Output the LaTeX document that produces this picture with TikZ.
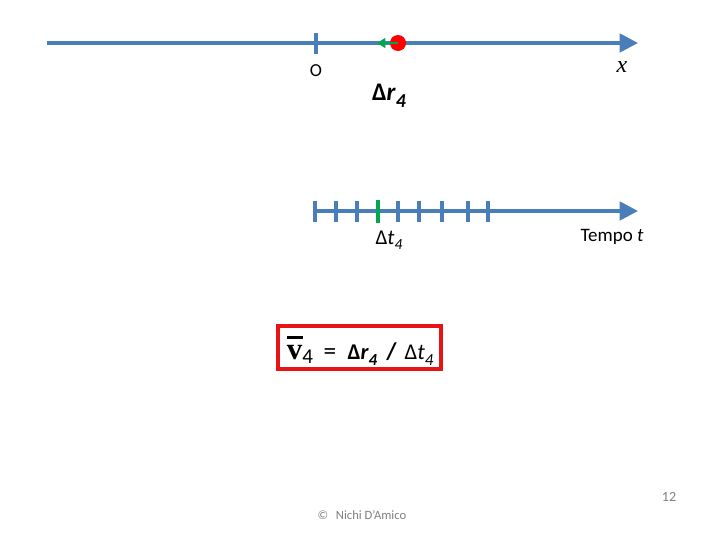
\documentclass[tikz,border=0pt]{standalone}
\usepackage{fontspec}
\setmainfont{Carlito}
\newfontfamily\timesfont{Liberation Serif}
\usepackage{xcolor}
\usepackage{tikz}
\usetikzlibrary{arrows.meta,calc}
\definecolor{axisblue}{RGB}{74,126,187}
\definecolor{tickgreen}{RGB}{0,166,80}
\definecolor{boxred}{RGB}{230,20,20}
\newcommand{\subfour}[1]{\raisebox{-0.55ex}{\fontsize{#1}{#1}\selectfont\textit{4}}}

\begin{document}
\begin{tikzpicture}[x=0.025cm,y=-0.025cm,thick]
      \tikzstyle{axis} = [draw=axisblue,line width=2.6pt,-{Triangle[length=13pt,width=13pt]}]
      \tikzstyle{tick} = [draw=axisblue,line width=2.6pt]
      \tikzstyle{label} = [inner sep=1pt]
      \tikzstyle{surround} = [draw=boxred,line width=2.2pt,minimum width=163*0.025cm,minimum height=43*0.025cm,inner sep=0pt]
      \useasboundingbox (0,0) rectangle (720,540);
      %
      % Space axis.
      \coordinate (xstart) at (47,43);
      \coordinate (xend) at (638,43);
      \draw[axis] (xstart) -- (xend);
      \coordinate (origin) at (316,43);
      \draw[tick] ($(origin)+(0,-10)$) -- ($(origin)+(0,11)$);
      \node[label,font=\fontsize{13}{13}\selectfont] (O) at (316,71) {O};
      \node[label,font=\timesfont\itshape\fontsize{17}{17}\selectfont] (x) at (622,67) {x};

      % Moving body.
      \node[circle,fill=red,minimum size=16*0.025cm,inner sep=0pt] (body) at (398,43) {};
      \coordinate (bodytip) at (377,43);
      \draw[tickgreen,line width=1.8pt,-{Triangle[length=6pt,width=7pt]}] (body.center) -- (bodytip);
      \node[label,font=\bfseries\fontsize{18}{18}\selectfont] (dr) at (389,96) {Δ\textit{r}\subfour{14}};

      % Time axis.
      \coordinate (tstart) at (314,211);
      \coordinate (tend) at (638,211);
      \draw[axis] (tstart) -- (tend);
      \foreach \tx in {315,336,357,398,419,442,468,488}
         \draw[tick] (\tx,201) -- (\tx,222);
      \draw[tickgreen,line width=2.6pt] (378,200) -- (378,223);
      \node[label,font=\fontsize{15}{15}\selectfont] (dt) at (389,240) {Δ\textit{t}\subfour{11}};
      \node[label,font=\fontsize{13.5}{13.5}\selectfont] (tempo) at (612,237) {Tempo \textit{t}};

      % Average velocity.
      \node[surround] (vbox) at (359.5,347.5) {};
      \node[label,anchor=west] (vmean) at (285,351) {%
         {\timesfont\bfseries\fontsize{22}{22}\selectfont\rlap{\raisebox{0.66em}{\rule{0.52em}{0.09em}}}v}\raisebox{-0.55ex}{\fontsize{15}{15}\selectfont 4}%
         \hspace{0.75em}{\fontsize{16}{16}\selectfont{\fontsize{18}{18}\selectfont =}\hspace{0.5em}\textbf{Δ\textit{r}\subfour{12}}\hspace{0.4em}{\fontsize{17}{17}\selectfont\textbf{/}}\hspace{0.35em}Δ\textit{t}\subfour{12}}};

      % Footer.
      \node[label,text=gray,font=\fontsize{10}{10}\selectfont] (page) at (669,497) {12};
      \node[label,text=gray,font=\fontsize{9}{9}\selectfont] (credit) at (362,515) {©\hspace{0.6em}Nichi D'Amico};
\end{tikzpicture}
\end{document}
